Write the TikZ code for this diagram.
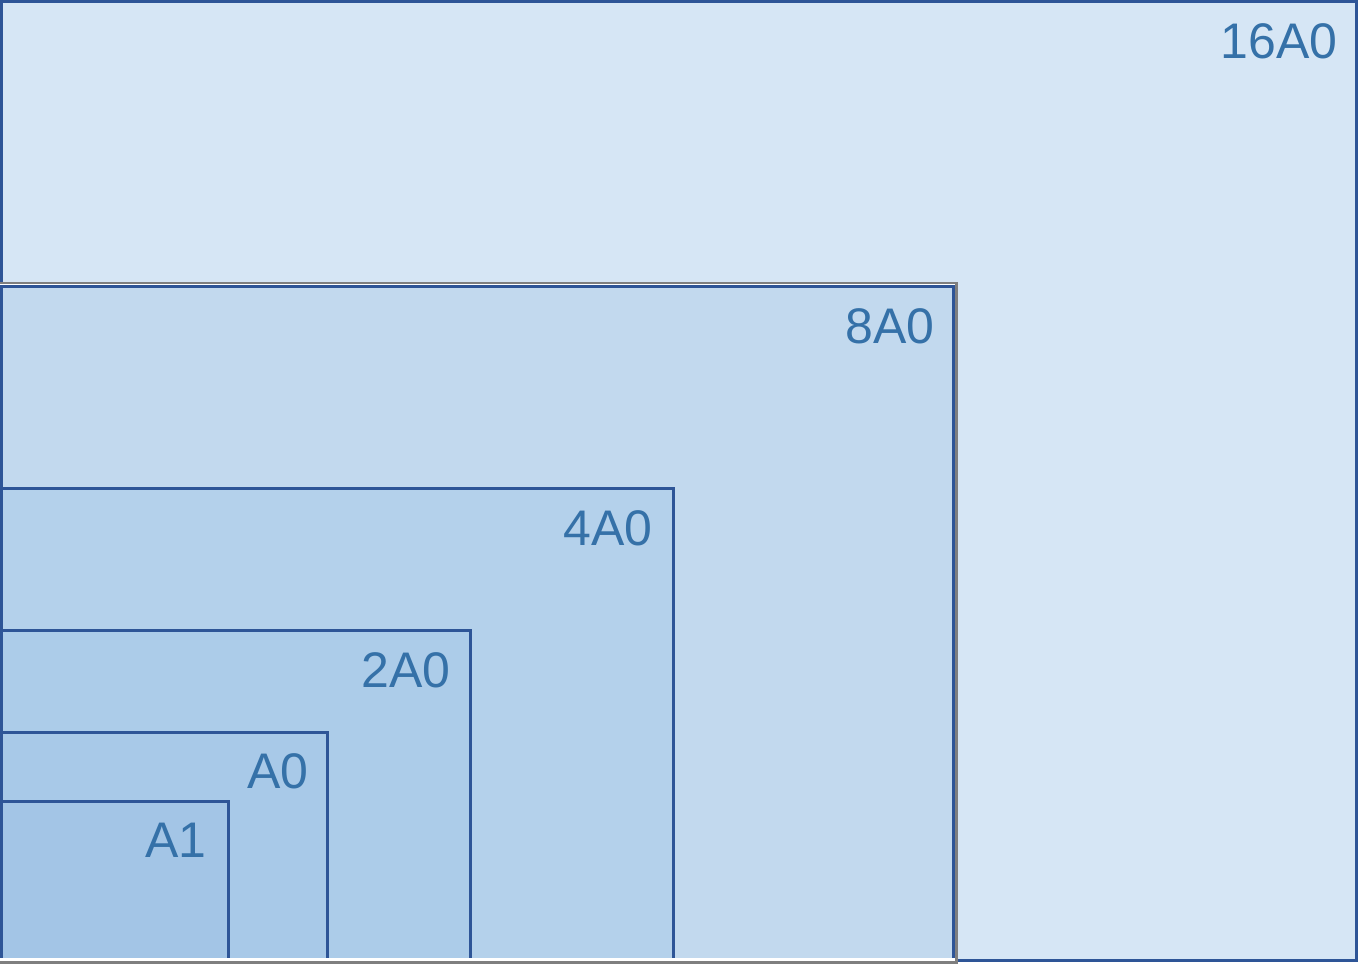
\documentclass[tikz,border=0pt]{standalone}
\usepackage{fontspec}
\setmainfont{Liberation Sans}
\definecolor{edge}{HTML}{2E5597}
\definecolor{lbl}{HTML}{3571A8}
\definecolor{f16}{HTML}{D6E6F5}
\definecolor{f8}{HTML}{C2D9EE}
\definecolor{f4}{HTML}{B4D1EB}
\definecolor{f2}{HTML}{ACCCE9}
\definecolor{f0}{HTML}{A8C9E8}
\definecolor{f1}{HTML}{A3C5E6}
\definecolor{frame}{HTML}{7F7F7F}
\tikzset{
  sheet/.style={draw=edge, line width=3pt, rectangle, inner sep=0pt, outer sep=0pt, anchor=north west},
  sizelabel/.style={text=lbl, font=\fontsize{50}{50}\selectfont, anchor=base east, inner sep=0pt}
}
\begin{document}
\begin{tikzpicture}[x=1pt,y=-1pt]
\useasboundingbox (0,0) rectangle (1361,964);
\fill[white] (0,0) rectangle (1361,964);
% 16A0
\node[sheet, fill=f16, minimum width=1355pt, minimum height=959pt] (s16) at (1.5,1.5) {};
% 8A0 frame (gray outer, white inner)
\node[draw=frame, line width=2.5pt, fill=white, rectangle, inner sep=0pt, outer sep=0pt, anchor=north west,
      minimum width=958.5pt, minimum height=679.5pt] (fr8) at (-2,283) {};
\node[sheet, fill=f8, minimum width=951.5pt, minimum height=674pt] (s8) at (1.5,286.5) {};
% 4A0
\node[sheet, fill=f4, minimum width=671.5pt, minimum height=474pt] (s4) at (1.5,488.5) {};
% 2A0
\node[sheet, fill=f2, minimum width=468.5pt, minimum height=332pt] (s2) at (1.5,630.5) {};
% A0
\node[sheet, fill=f0, minimum width=326pt, minimum height=230pt] (s0) at (1.5,732.5) {};
% A1
\node[sheet, fill=f1, minimum width=226.5pt, minimum height=161pt] (s1) at (1.5,801.5) {};
% bottom of the 8A0 frame, over the inner sheets
\coordinate (bw) at (0,959.5);
\coordinate (be) at (955,959.5);
\draw[white, line width=3pt] (bw) -- (be);
\draw[frame, line width=3pt] (fr8.south west) -- ([xshift=1.25pt]fr8.south east);
% labels
\node[sizelabel] (l16) at ([xshift=-19pt,yshift=-57pt]s16.north east) {16A0};
\node[sizelabel] (l8) at ([xshift=-18pt,yshift=-57pt]s8.north east) {8A0};
\node[sizelabel] (l4) at ([xshift=-20pt,yshift=-57pt]s4.north east) {4A0};
\node[sizelabel] (l2) at ([xshift=-19pt,yshift=-57pt]s2.north east) {2A0};
\node[sizelabel] (l0) at ([xshift=-19pt,yshift=-56pt]s0.north east) {A0};
\node[sizelabel] (l1) at ([xshift=-21pt,yshift=-56pt]s1.north east) {A1};
\end{tikzpicture}
\end{document}
